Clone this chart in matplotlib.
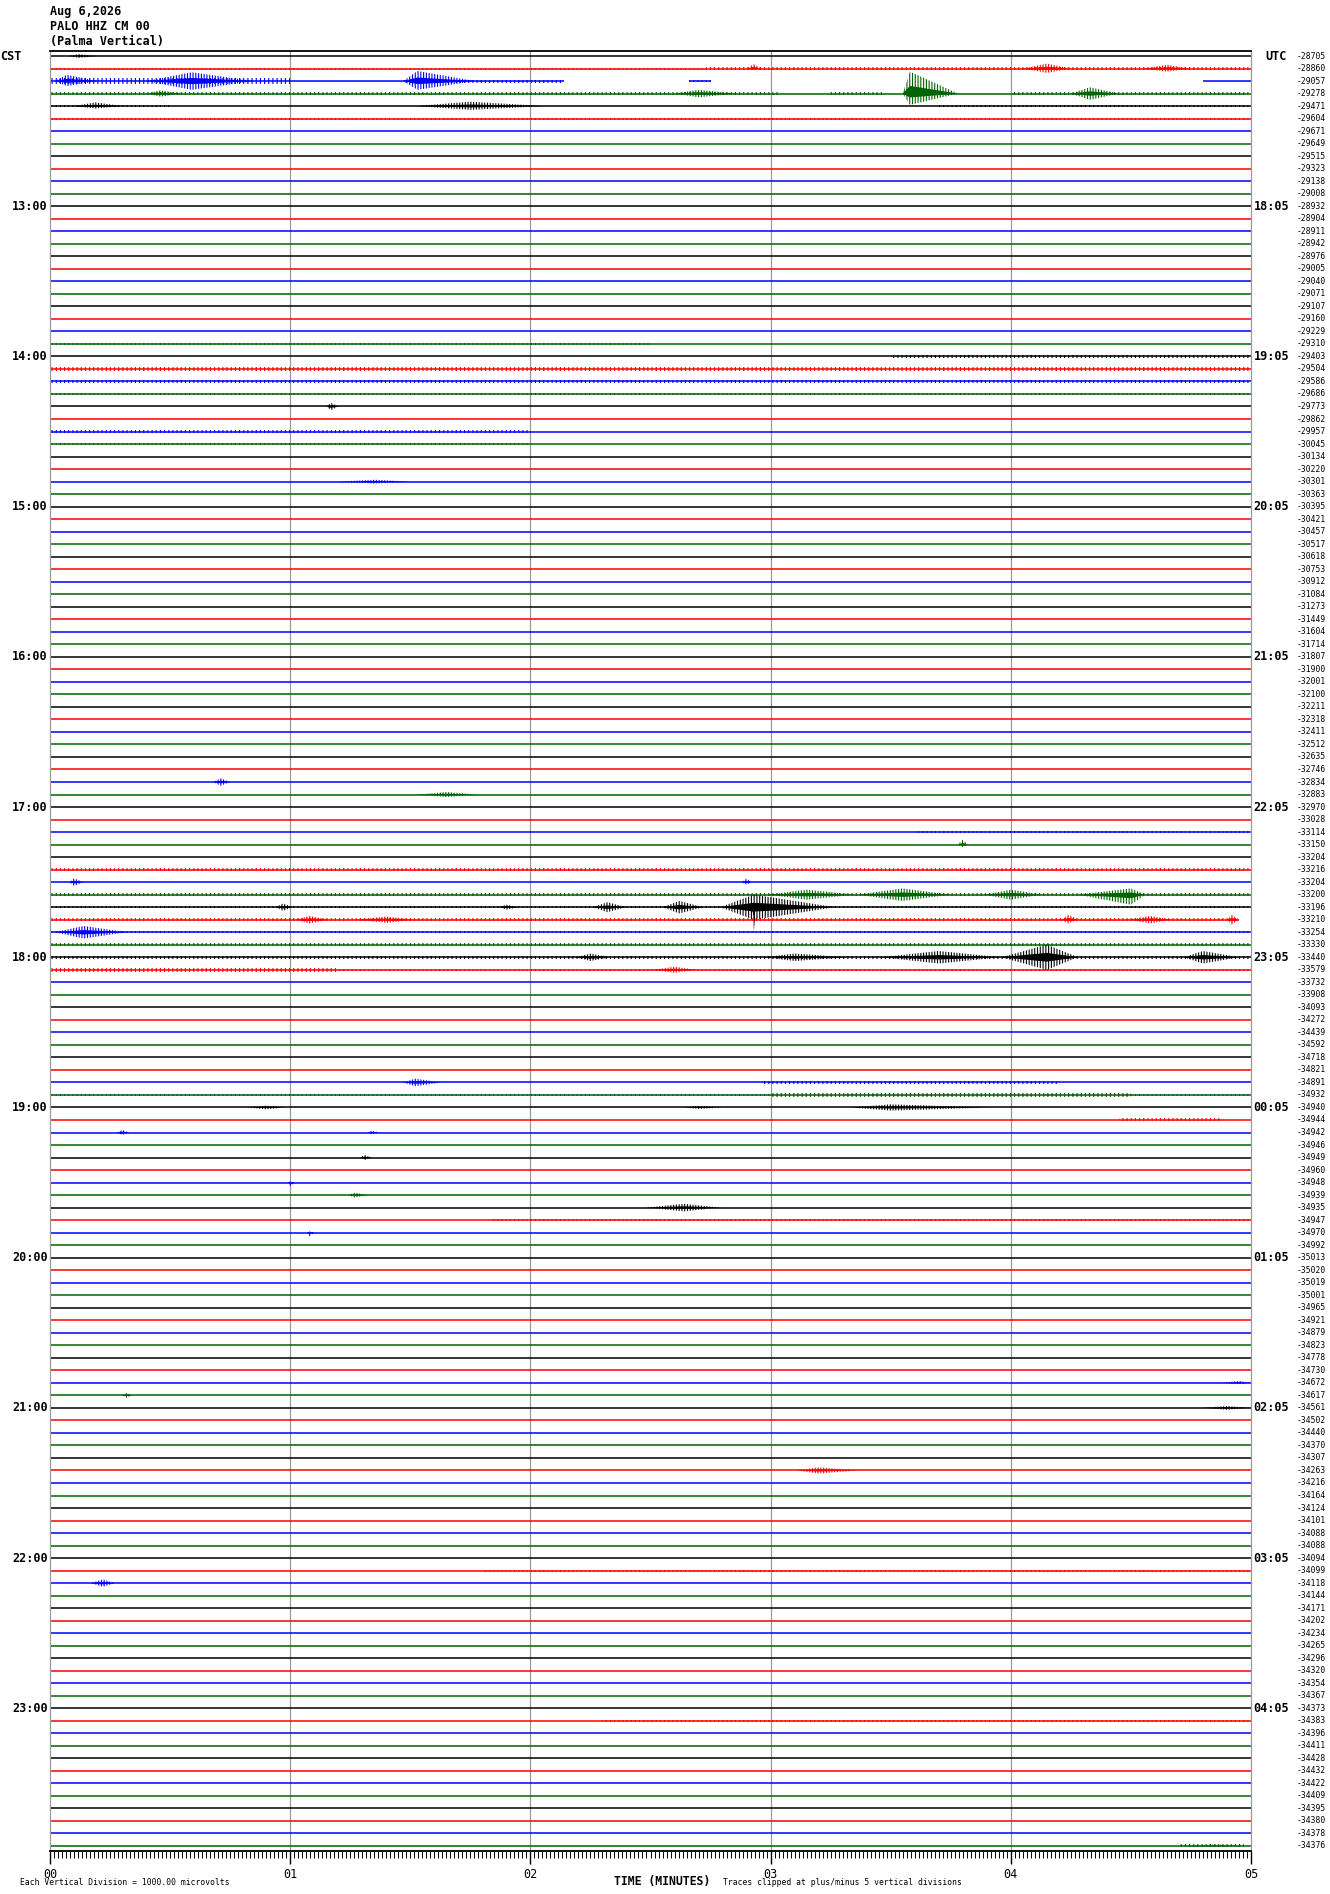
import matplotlib
matplotlib.use("Agg")
import matplotlib.pyplot as plt
from matplotlib.ticker import MultipleLocator, FixedLocator

# ---- header / labels ----
title_lines = ["Aug 6,2026", "PALO HHZ CM 00", "(Palma Vertical)"]
cst_hours = ["13:00", "14:00", "15:00", "16:00", "17:00", "18:00",
             "19:00", "20:00", "21:00", "22:00", "23:00"]
utc_hours = ["18:05", "19:05", "20:05", "21:05", "22:05", "23:05",
             "00:05", "01:05", "02:05", "03:05", "04:05"]
minute_labels = ["00", "01", "02", "03", "04", "05"]

# mean count printed at the right of every 5-minute line (12:00 .. 23:55 CST)
line_offsets = [
    -28705, -28860, -29057, -29278, -29471, -29604, -29671, -29649, -29515, -29323, -29138, -29008,
    -28932, -28904, -28911, -28942, -28976, -29005, -29040, -29071, -29107, -29160, -29229, -29310,
    -29403, -29504, -29586, -29686, -29773, -29862, -29957, -30045, -30134, -30220, -30301, -30363,
    -30395, -30421, -30457, -30517, -30618, -30753, -30912, -31084, -31273, -31449, -31604, -31714,
    -31807, -31900, -32001, -32100, -32211, -32318, -32411, -32512, -32635, -32746, -32834, -32883,
    -32970, -33028, -33114, -33150, -33204, -33216, -33204, -33200, -33196, -33210, -33254, -33330,
    -33440, -33579, -33732, -33908, -34093, -34272, -34439, -34592, -34718, -34821, -34891, -34932,
    -34940, -34944, -34942, -34946, -34949, -34960, -34948, -34939, -34935, -34947, -34970, -34992,
    -35013, -35020, -35019, -35001, -34965, -34921, -34879, -34823, -34778, -34730, -34672, -34617,
    -34561, -34502, -34440, -34370, -34307, -34263, -34216, -34164, -34124, -34101, -34088, -34088,
    -34094, -34099, -34118, -34144, -34171, -34202, -34234, -34265, -34296, -34320, -34354, -34367,
    -34373, -34383, -34396, -34411, -34428, -34432, -34422, -34409, -34395, -34380, -34378, -34376,
]

# lines with missing data: (start, end) minutes that actually have samples
trace_spans = {
    2: [(0.0, 2.14), (2.66, 2.75), (4.80, 5.0)],
    69: [(0.0, 4.95)],
}

# steady background noise: (line, from min, to min, half-width in divisions)
noise_bands = [
    (1, 0.0, 2.73, 0.08), (1, 2.73, 5.0, 0.15),
    (2, 0.0, 1.0, 0.25), (2, 1.47, 2.14, 0.12), (2, 2.66, 2.75, 0.1),
    (3, 0.0, 3.03, 0.14), (3, 3.24, 3.47, 0.12), (3, 4.0, 5.0, 0.12),
    (4, 0.0, 0.5, 0.1), (4, 3.7, 5.0, 0.1),
    (5, 0.0, 5.0, 0.08),
    (23, 0.0, 2.5, 0.1), (24, 3.5, 5.0, 0.1),
    (25, 0.0, 5.0, 0.17), (26, 0.0, 5.0, 0.14), (27, 0.0, 5.0, 0.1),
    (30, 0.0, 2.0, 0.1), (31, 0.0, 2.0, 0.08),
    (62, 3.6, 5.0, 0.1), (65, 0.0, 5.0, 0.1),
    (67, 0.0, 5.0, 0.14), (68, 0.0, 5.0, 0.08), (69, 0.0, 4.95, 0.14),
    (70, 0.0, 5.0, 0.1), (71, 0.0, 5.0, 0.12), (72, 0.0, 5.0, 0.14),
    (73, 0.0, 1.2, 0.17), (73, 1.2, 5.0, 0.08),
    (82, 2.97, 4.2, 0.14), (83, 0.0, 5.0, 0.1), (83, 3.0, 4.5, 0.14),
    (85, 4.45, 4.87, 0.12), (93, 1.84, 5.0, 0.1),
    (121, 1.8, 5.0, 0.08), (133, 2.3, 5.0, 0.07), (143, 4.7, 4.97, 0.12),
]

# wave bursts: (line, onset, peak, end, up, down) in minutes / divisions
bursts = [
    (0, 0.08, 0.12, 0.20, 0.15, 0.15),
    (1, 2.90, 2.93, 2.96, 0.35, 0.10),
    (1, 4.05, 4.15, 4.25, 0.40, 0.35),
    (1, 4.55, 4.65, 4.75, 0.30, 0.25),
    (2, 0.02, 0.07, 0.20, 0.50, 0.40),
    (2, 0.40, 0.59, 0.85, 0.70, 0.70),
    (2, 1.47, 1.53, 1.77, 0.80, 0.70),
    (3, 0.40, 0.46, 0.55, 0.25, 0.25),
    (3, 2.60, 2.70, 2.86, 0.30, 0.30),
    (3, 3.55, 3.58, 3.78, 1.75, 0.90),
    (3, 4.25, 4.33, 4.45, 0.50, 0.50),
    (4, 0.10, 0.19, 0.30, 0.30, 0.20),
    (4, 1.52, 1.75, 2.06, 0.35, 0.30),
    (28, 1.15, 1.17, 1.20, 0.30, 0.30),
    (34, 1.20, 1.35, 1.50, 0.15, 0.15),
    (58, 0.68, 0.71, 0.75, 0.30, 0.30),
    (59, 1.53, 1.65, 1.78, 0.20, 0.20),
    (63, 3.78, 3.80, 3.82, 0.40, 0.20),
    (66, 0.08, 0.10, 0.14, 0.30, 0.30),
    (66, 2.88, 2.90, 2.92, 0.30, 0.20),
    (67, 2.99, 3.15, 3.35, 0.40, 0.40),
    (67, 3.36, 3.55, 3.75, 0.50, 0.50),
    (67, 3.89, 4.00, 4.13, 0.40, 0.40),
    (67, 4.28, 4.50, 4.56, 0.50, 0.80),
    (68, 0.94, 0.97, 1.01, 0.30, 0.30),
    (68, 1.87, 1.90, 1.95, 0.20, 0.20),
    (68, 2.26, 2.32, 2.40, 0.40, 0.40),
    (68, 2.55, 2.62, 2.72, 0.50, 0.50),
    (68, 2.79, 2.93, 3.27, 1.00, 1.00),
    (68, 2.92, 2.93, 2.94, 0.20, 2.00),
    (69, 1.02, 1.08, 1.16, 0.30, 0.30),
    (69, 1.27, 1.40, 1.52, 0.25, 0.25),
    (69, 4.21, 4.24, 4.28, 0.40, 0.30),
    (69, 4.49, 4.58, 4.67, 0.30, 0.30),
    (69, 4.90, 4.92, 4.95, 0.40, 0.40),
    (70, 0.02, 0.14, 0.32, 0.50, 0.50),
    (72, 2.19, 2.25, 2.33, 0.30, 0.30),
    (72, 2.97, 3.10, 3.32, 0.30, 0.30),
    (72, 3.46, 3.70, 3.96, 0.50, 0.50),
    (72, 3.96, 4.15, 4.28, 1.00, 1.00),
    (72, 4.72, 4.80, 4.95, 0.50, 0.50),
    (73, 2.51, 2.60, 2.69, 0.25, 0.25),
    (82, 1.47, 1.52, 1.63, 0.30, 0.30),
    (84, 0.82, 0.90, 0.98, 0.15, 0.15),
    (84, 2.64, 2.70, 2.80, 0.12, 0.12),
    (84, 3.33, 3.50, 3.92, 0.25, 0.25),
    (86, 0.28, 0.30, 0.33, 0.20, 0.20),
    (86, 1.32, 1.34, 1.37, 0.15, 0.15),
    (88, 1.29, 1.31, 1.34, 0.20, 0.20),
    (90, 0.99, 1.00, 1.02, 0.10, 0.30),
    (91, 1.24, 1.27, 1.32, 0.20, 0.20),
    (92, 2.48, 2.64, 2.79, 0.30, 0.30),
    (94, 1.07, 1.08, 1.10, 0.10, 0.30),
    (106, 4.88, 4.95, 5.00, 0.15, 0.10),
    (107, 0.30, 0.32, 0.34, 0.20, 0.20),
    (108, 4.80, 4.90, 5.00, 0.15, 0.15),
    (113, 3.11, 3.20, 3.36, 0.25, 0.25),
    (122, 0.17, 0.22, 0.27, 0.30, 0.30),
    (143, 4.70, 4.85, 4.97, 0.12, 0.05),
]

trace_colors = ["#000000", "#ff0000", "#0000ff", "#006400"]
MONO = "DejaVu Sans Mono"
W, H = 1330, 1894
n_lines = len(line_offsets)

plt.rcParams["hatch.linewidth"] = 0.8


def px_fig(x, y):
    """Pixel position (from top-left) to figure fraction."""
    return x / W, 1 - y / H


fig = plt.figure(figsize=(W / 100, H / 100), dpi=100)
ax_left, ax_top, ax_right, ax_bottom = 50, 51, 1251, 1851
ax = fig.add_axes([ax_left / W, 1 - ax_bottom / H,
                   (ax_right - ax_left) / W, (ax_bottom - ax_top) / H])
ax.set_xlim(0, 5)
ax.set_ylim(n_lines - 1 + 0.4, -0.4)

# minute grid
for m in range(1, 5):
    ax.axvline(m, color="#9a9a9a", lw=0.9, zorder=0)

for i in range(n_lines):
    c = trace_colors[i % 4]
    for t0, t1 in trace_spans.get(i, [(0.0, 5.0)]):
        ax.plot([t0, t1], [i, i], color=c, lw=1.1, solid_capstyle="butt", zorder=2)

# noise drawn as close vertical strokes, bursts as dense strokes in an envelope
for row, t0, t1, amp in noise_bands:
    ax.fill_between([t0, t1], row - amp, row + amp, facecolor="none",
                    edgecolor=trace_colors[row % 4], hatch="||||", lw=0, zorder=2)

for row, t0, tp, t1, up, down in bursts:
    c = trace_colors[row % 4]
    ax.fill([t0, tp, t1, tp], [row, row - up, row, row + down],
            facecolor="none", edgecolor=c, hatch="||||||", lw=0, zorder=3)
    ax.fill([t0, tp, t1, tp], [row, row - 0.35 * up, row, row + 0.35 * down],
            color=c, lw=0, zorder=3)

# frame: black top/bottom, gray sides
for side in ("left", "right"):
    ax.spines[side].set_color("#9a9a9a")
    ax.spines[side].set_linewidth(0.9)
for side in ("top", "bottom"):
    ax.spines[side].set_color("black")
    ax.spines[side].set_linewidth(1.3)

ax.xaxis.set_major_locator(FixedLocator(range(6)))
ax.set_xticklabels(minute_labels, family=MONO, fontsize=8.5)
ax.xaxis.set_minor_locator(MultipleLocator(1 / 60))
ax.tick_params(axis="x", which="major", length=9, width=1.0, direction="out", pad=3)
ax.tick_params(axis="x", which="minor", length=5, width=0.7, direction="out")
ax.set_yticks([])

ytr = ax.get_yaxis_transform()
ax.text(-50 / 1201, 0, "CST", transform=ytr, ha="left", va="center",
        family=MONO, fontsize=8.5, fontweight="bold")
ax.text((1265 - 50) / 1201, 0, "UTC", transform=ytr, ha="left", va="center",
        family=MONO, fontsize=8.5, fontweight="bold")
for k, (lab_l, lab_r) in enumerate(zip(cst_hours, utc_hours)):
    row = 12 * (k + 1)
    ax.text(-0.002, row, lab_l, transform=ytr, ha="right", va="center",
            family=MONO, fontsize=8.5, fontweight="bold")
    ax.text(1.002, row, lab_r, transform=ytr, ha="left", va="center",
            family=MONO, fontsize=8.5, fontweight="bold")
for i, val in enumerate(line_offsets):
    ax.text((1326 - 50) / 1201, i, str(val), transform=ytr, ha="right", va="center",
            family=MONO, fontsize=5.8)

for j, line in enumerate(title_lines):
    fig.text(*px_fig(50, 12 + 14.5 * j), line, ha="left", va="center",
             family=MONO, fontsize=8.5, fontweight="bold")

fig.text(*px_fig(20, 1882), "Each Vertical Division = 1000.00 microvolts",
         ha="left", va="center", family=MONO, fontsize=5.8)
fig.text(*px_fig(614, 1881), "TIME (MINUTES)", ha="left", va="center",
         family=MONO, fontsize=8.3, fontweight="bold")
fig.text(*px_fig(723, 1882), "Traces clipped at plus/minus 5 vertical divisions",
         ha="left", va="center", family=MONO, fontsize=5.8)

fig.savefig("out.png", dpi=100)
